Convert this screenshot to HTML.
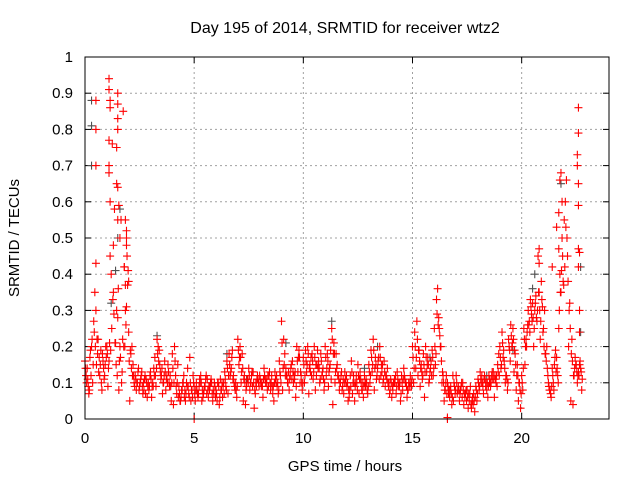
<!DOCTYPE html>
<html><head><meta charset="utf-8"><style>
html,body{margin:0;padding:0;background:#fff;}
svg{display:block;font-family:"Liberation Sans",sans-serif;}
</style></head><body>
<svg id="chart" width="640" height="480" viewBox="0 0 640 480" xmlns="http://www.w3.org/2000/svg">
<rect width="640" height="480" fill="#fff"/>
<text x="345" y="33" font-size="16" text-anchor="middle" fill="#000">Day 195 of 2014, SRMTID for receiver wtz2</text>
<text x="345" y="471" font-size="15" text-anchor="middle" fill="#000">GPS time / hours</text>
<text x="0" y="0" font-size="15" text-anchor="middle" fill="#000" transform="translate(19,238) rotate(-90)">SRMTID / TECUs</text>
<g id="grid"></g>
<g id="ticks"></g>
<g id="grey"></g>
<g id="red"></g>
<rect x="85" y="57" width="524" height="362" fill="none" stroke="#000" stroke-width="1"/>
</svg>
<script>
const xTicks=[0,5,10,15,20];
const yTicks=[0,0.1,0.2,0.3,0.4,0.5,0.6,0.7,0.8,0.9,1];
const yTickLabels=["0","0.1","0.2","0.3","0.4","0.5","0.6","0.7","0.8","0.9","1"];
const times=[0,0.1,0.2,0.3,0.4,0.5,0.6,0.7,0.8,0.9,
1,1.1,1.2,1.3,1.4,1.5,1.6,1.7,1.8,1.9,
2,2.1,2.2,2.3,2.4,2.5,2.6,2.7,2.8,2.9,
3,3.1,3.2,3.3,3.4,3.5,3.6,3.7,3.8,3.9,
4,4.1,4.2,4.3,4.4,4.5,4.6,4.7,4.8,4.9,
5,5.1,5.2,5.3,5.4,5.5,5.6,5.7,5.8,5.9,
6,6.1,6.2,6.3,6.4,6.5,6.6,6.7,6.8,6.9,
7,7.1,7.2,7.3,7.4,7.5,7.6,7.7,7.8,7.9,
8,8.1,8.2,8.3,8.4,8.5,8.6,8.7,8.8,8.9,
9,9.1,9.2,9.3,9.4,9.5,9.6,9.7,9.8,9.9,
10,10.1,10.2,10.3,10.4,10.5,10.6,10.7,10.8,10.9,
11,11.1,11.2,11.3,11.4,11.5,11.6,11.7,11.8,11.9,
12,12.1,12.2,12.3,12.4,12.5,12.6,12.7,12.8,12.9,
13,13.1,13.2,13.3,13.4,13.5,13.6,13.7,13.8,13.9,
14,14.1,14.2,14.3,14.4,14.5,14.6,14.7,14.8,14.9,
15,15.1,15.2,15.3,15.4,15.5,15.6,15.7,15.8,15.9,
16,16.1,16.2,16.3,16.4,16.5,16.6,16.7,16.8,16.9,
17,17.1,17.2,17.3,17.4,17.5,17.6,17.7,17.8,17.9,
18,18.1,18.2,18.3,18.4,18.5,18.6,18.7,18.8,18.9,
19,19.1,19.2,19.3,19.4,19.5,19.6,19.7,19.8,19.9,
20,20.1,20.2,20.3,20.4,20.5,20.6,20.7,20.8,20.9,
21,21.1,21.2,21.3,21.4,21.5,21.6,21.7,21.8,21.9,
22,22.1,22.2,22.3,22.4,22.5,22.6,22.7];
const red1=[.16,.14,.08,.2,.27,.3,.22,.15,.18,.12,
.2,.16,.4,.35,.21,.28,.2,.13,.42,.5,
.24,.18,.15,.12,.1,.09,.13,.08,.11,.1,
.13,.1,.17,.22,.19,.12,.1,.08,.15,.12,
.18,.2,.07,.09,.06,.1,.05,.14,.17,.08,
.09,.1,.07,.12,.06,.09,.11,.08,.1,.07,
.08,.1,.11,.06,.13,.16,.18,.14,.12,.1,
.22,.2,.18,.12,.09,.14,.1,.13,.07,.12,
.12,.1,.14,.11,.09,.08,.07,.13,.09,.16,
.27,.22,.14,.1,.12,.16,.11,.2,.19,.12,
.17,.19,.2,.15,.18,.2,.12,.16,.18,.14,
.2,.18,.14,.25,.21,.18,.12,.1,.09,.13,
.09,.06,.16,.12,.1,.15,.13,.08,.12,.1,
.15,.19,.22,.17,.14,.2,.13,.16,.12,.09,
.11,.08,.1,.13,.09,.12,.14,.1,.08,.12,
.2,.24,.27,.19,.15,.18,.2,.17,.13,.19,
.25,.33,.28,.2,.12,.08,.1,.06,.04,.1,
.12,.09,.08,.1,.06,.08,.05,.03,.07,.09,
.11,.13,.1,.12,.08,.12,.1,.13,.11,.15,
.2,.24,.16,.12,.22,.26,.25,.18,.15,.1,
.12,.25,.22,.3,.33,.32,.3,.27,.35,.38,
.25,.18,.12,.08,.14,.15,.17,.25,.35,.38,
.6,.45,.32,.22,.12,.15,.13,.14];
const red2=[.12,.09,.19,.1,.35,.22,.17,.1,.14,.2,
.09,.45,.76,.58,.3,.08,.55,.85,.3,.37,
.05,.2,.1,.08,.14,.11,.07,.12,.06,.09,
.06,.14,.09,.2,.13,.07,.16,.12,.1,.05,
.04,.12,.15,.05,.08,.06,.1,.07,.05,.12,
.05,.07,.11,.05,.08,.12,.06,.1,.05,.09,
.05,.04,.08,.1,.09,.07,.12,.19,.09,.06,
.15,.1,.05,.04,.11,.08,.13,.03,.09,.1,
.1,.06,.11,.08,.13,.12,.05,.1,.07,.12,
.08,.18,.12,.08,.15,.1,.06,.13,.1,.08,
.1,.13,.07,.17,.11,.08,.19,.1,.12,.08,
.12,.09,.19,.04,.1,.15,.08,.13,.07,.1,
.05,.12,.07,.05,.1,.07,.1,.06,.09,.07,
.1,.13,.08,.11,.17,.12,.1,.09,.14,.07,
.06,.1,.07,.09,.05,.08,.11,.06,.1,.09,
.1,.14,.12,.09,.11,.06,.13,.1,.16,.12,
.15,.36,.23,.1,.05,.12,.07,.09,.12,.07,
.07,.05,.1,.04,.08,.03,.09,.06,.02,.05,
.08,.1,.07,.09,.06,.11,.13,.06,.12,.18,
.14,.17,.1,.08,.19,.2,.13,.08,.05,.03,
.08,.15,.24,.27,.29,.2,.34,.45,.22,.31,
.3,.2,.09,.06,.1,.19,.12,.4,.5,.55,
.66,.2,.05,.04,.17,.1,.15,.08];
const red3=[.14,.11,.17,.22,.24,.15,.13,.19,.16,.15,
.18,.21,.25,.29,.15,.36,.17,.22,.2,.45,
.16,.14,.12,.11,.13,.1,.09,.11,.1,.08,
.11,.09,.12,.18,.15,.14,.12,.11,.13,.09,
.14,.16,.1,.07,.08,.12,.07,.09,.1,.06,
.07,.08,.09,.1,.07,.11,.08,.09,.07,.1,
.07,.09,.08,.09,.11,.14,.15,.17,.1,.08,
.19,.17,.14,.1,.11,.12,.12,.1,.1,.11,
.11,.09,.12,.1,.12,.1,.09,.11,.1,.13,
.21,.15,.12,.13,.14,.13,.13,.16,.17,.1,
.15,.16,.18,.13,.16,.17,.15,.14,.16,.11,
.17,.16,.15,.22,.18,.14,.11,.12,.11,.11,
.1,.08,.13,.1,.12,.12,.11,.1,.1,.08,
.13,.17,.19,.15,.16,.17,.15,.13,.11,.1,
.1,.1,.12,.11,.1,.1,.12,.09,.1,.1,
.17,.2,.22,.16,.13,.15,.17,.15,.14,.17,
.2,.29,.25,.16,.1,.1,.09,.08,.06,.09,
.1,.08,.09,.08,.07,.06,.07,.05,.05,.08,
.1,.11,.09,.11,.1,.1,.12,.11,.1,.13,
.17,.21,.14,.11,.2,.23,.22,.15,.12,.08,
.1,.22,.2,.26,.31,.28,.32,.3,.3,.33,
.2,.16,.1,.07,.12,.17,.14,.3,.41,.37,
.53,.38,.25,.16,.14,.13,.12,.13];
const red4=[.1,.07,.12,.15,.2,.18,.12,.08,.11,.17,
.14,.19,.33,.21,.12,.16,.1,.2,.26,.41,
.19,.12,.09,.1,.08,.12,.1,.07,.09,.12,
.09,.12,.14,.16,.11,.1,.13,.1,.09,.1,
.1,.09,.06,.05,.1,.08,.09,.06,.08,.1,
.08,.06,.1,.08,.09,.07,.09,.11,.08,.06,
.1,.06,.1,.07,.08,.12,.13,.11,.08,.09,
.17,.13,.11,.08,.1,.1,.09,.08,.11,.09,
.09,.11,.1,.12,.1,.09,.1,.12,.08,.1,
.14,.12,.1,.11,.11,.12,.09,.17,.13,.1,
.12,.15,.14,.12,.13,.15,.14,.11,.13,.1,
.14,.13,.11,.18,.13,.12,.1,.08,.1,.12,
.08,.09,.1,.09,.08,.11,.08,.09,.11,.09,
.12,.15,.14,.12,.11,.15,.11,.12,.1,.08,
.09,.11,.09,.1,.07,.11,.1,.08,.09,.11,
.14,.17,.19,.14,.12,.13,.15,.11,.12,.14,
.18,.26,.2,.13,.08,.07,.08,.07,.05,.08,
.08,.07,.06,.07,.05,.07,.04,.04,.06,.07,
.09,.12,.11,.1,.09,.09,.11,.12,.09,.12,
.15,.19,.12,.1,.16,.21,.19,.12,.1,.07,
.14,.2,.26,.24,.27,.25,.28,.35,.27,.24,
.18,.14,.08,.09,.08,.13,.1,.35,.45,.42,
.5,.3,.18,.12,.15,.12,.16,.11];
const spikeT=[1.1,1.1,1.15,1.15,1.1,1.1,1.1,1.5,1.5,1.5,1.5,1.45,1.45,1.5,1.55,0.5,0.5,0.5,0.5,1.15,1.3,1.85,1.9,1.9,1.8,1.85,1.9,2.0,1.6,1.5,
21.4,21.6,21.7,21.75,21.8,21.85,21.7,22.6,22.6,22.55,22.55,22.6,22.6,22.6,22.65,22.6,22.65,22.65,20.8,20.8,5.0,16.6,16.6];
const spikeV=[.94,.91,.88,.86,.77,.7,.68,.9,.87,.83,.8,.75,.65,.64,.59,.88,.8,.7,.43,.6,.48,.55,.52,.48,.42,.37,.31,.38,.5,.55,
.42,.53,.57,.66,.68,.6,.47,.86,.79,.73,.7,.65,.59,.47,.46,.42,.3,.24,.47,.43,0,0,0.004];
const greyT=[0.3,0.3,0.3,1.6,1.5,1.4,1.2,20.6,20.5,21.8,22.7,22.7,3.3,6.5,9.2,11.3,13.4,15.8,18.4,19.6,7.4,12.8];
const greyV=[.88,.81,.7,.58,.5,.41,.32,.4,.36,.65,.42,.24,.23,.18,.21,.27,.2,.17,.12,.19,.11,.14];

const NS="http://www.w3.org/2000/svg";
const X0=85,X1=609,Y0=419,Y1=57,XMAX=24,YMAX=1;
function xs(v){return X0+(v/XMAX)*(X1-X0);}
function ys(v){return Y0-(v/YMAX)*(Y0-Y1);}
function mk(tag,attrs,parent){const e=document.createElementNS(NS,tag);for(const k in attrs)e.setAttribute(k,attrs[k]);parent.appendChild(e);return e;}
const grid=document.getElementById('grid'),ticks=document.getElementById('ticks');
xTicks.forEach(t=>{
 const x=xs(t);
 if(t>0){const g=mk('line',{x1:x,y1:Y0,x2:x,y2:Y1,stroke:'#a0a0a0','stroke-dasharray':'2,3','stroke-width':1},grid);
 
 }
 mk('line',{x1:x,y1:Y0,x2:x,y2:Y0-6,stroke:'#000'},ticks);
 mk('line',{x1:x,y1:Y1,x2:x,y2:Y1+6,stroke:'#000'},ticks);
 const l=mk('text',{x:x,y:443,'font-size':15,'text-anchor':'middle',fill:'#000'},ticks);
 l.textContent=String(t);
 
 
});
yTicks.forEach((t,i)=>{
 const y=ys(t);
 if(t>0&&t<1){const g=mk('line',{x1:X0,y1:y,x2:X1,y2:y,stroke:'#a0a0a0','stroke-dasharray':'2,3','stroke-width':1},grid);
 
 }
 mk('line',{x1:X0,y1:y,x2:X0+6,y2:y,stroke:'#000'},ticks);
 mk('line',{x1:X1,y1:y,x2:X1-6,y2:y,stroke:'#000'},ticks);
 const l=mk('text',{x:73,y:y+5,'font-size':15,'text-anchor':'end',fill:'#000'},ticks);
 l.textContent=yTickLabels[i];
 
 
});
function plus(parent,t,v,color,name){
 const x=xs(t),y=ys(v),s=4;
 const p=mk('path',{d:`M${x-s} ${y}H${x+s}M${x} ${y-s}V${y+s}`,stroke:color,'stroke-width':1.1,fill:'none'},parent);
 
 
}
const greyG=document.getElementById('grey'),redG=document.getElementById('red');
greyT.forEach((t,i)=>plus(greyG,t,greyV[i],'#505050','grey-point'));
times.forEach((t,i)=>{
 plus(redG,t,red1[i],'#ff0000','red-point');
 plus(redG,t+0.025,red3[i],'#ff0000','red-point');
 plus(redG,t+0.05,red2[i],'#ff0000','red-point');
 plus(redG,t+0.075,red4[i],'#ff0000','red-point');
});
spikeT.forEach((t,i)=>plus(redG,t,spikeV[i],'#ff0000','red-point'));
</script>
</body></html>
